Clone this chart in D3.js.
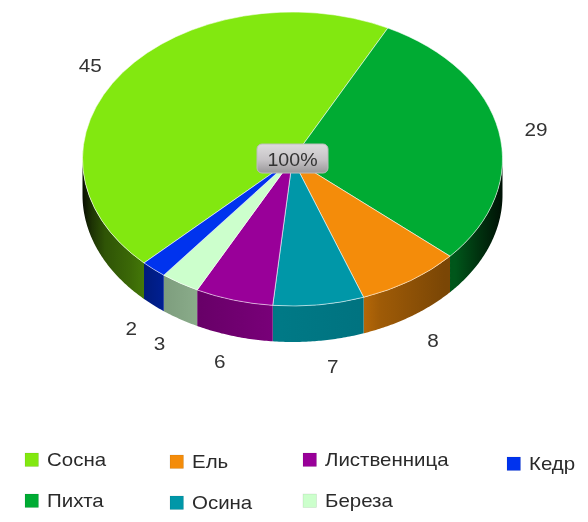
<!DOCTYPE html>
<html><head><meta charset="utf-8">
<script src="https://cdn.jsdelivr.net/npm/d3@7"></script>
<style>html,body{margin:0;padding:0;background:#fff}svg{display:block;filter:blur(.4px)}text{font-family:"Liberation Sans",Arial,sans-serif}</style>
</head><body><svg id="c" width="588" height="522"></svg>
<script>
const categories=["Сосна","Пихта","Ель","Осина","Лиственница","Береза","Кедр"];
const values=[45,29,8,7,6,3,2];
const colors=["#82E810","#00AB33","#F48C0A","#0097A8","#990099","#CCFFCC","#0033EE"];
const totalLabel="100%";
const legendOrder=["Сосна","Пихта","Ель","Осина","Лиственница","Береза","Кедр"];

const W=588,H=522,cx=292.5,cy=159,rx=210,ry=147,depth=36;
const svg=d3.select("#c"),defs=svg.append("defs");
const color=d3.scaleOrdinal(categories,colors);
const rot=225*Math.PI/180;
const pie=d3.pie().sort(null).startAngle(rot).endAngle(rot+2*Math.PI);
const arcs=pie(values).map((d,i)=>({...d,name:categories[i]}));
const px=a=>cx+rx*Math.sin(a), py=a=>cy-ry*Math.cos(a);

// side walls (front half only)
const lo=Math.PI/2,hi=3*Math.PI/2,TAU=2*Math.PI;
const wallX=d3.scaleLinear().domain([cx-rx,cx+rx]).range([0,100]);
const shade=[[82,.06],[92,.22],[105,.36],[130,.45],[165,.62],[200,.68],[280,.8],[360,.76],[380,.65],[445,.5],[455,.5],[478,.3],[503,.1]];
const line=d3.line();
const sides=[];
arcs.forEach((d,i)=>{
  [[d.startAngle,d.endAngle],[d.startAngle-TAU,d.endAngle-TAU]].forEach(([a,b])=>{
    const s=Math.max(a,lo),e=Math.min(b,hi);
    if(e<=s)return;
    const angs=d3.range(s,e,0.01).concat([e]);
    const top=angs.map(t=>[px(t),py(t)]);
    const bot=angs.slice().reverse().map(t=>[px(t),py(t)+depth]);
    sides.push({name:d.name,path:line(top.concat(bot))+"Z"});
  });
});
categories.forEach((n,i)=>{
  const g=defs.append("linearGradient").attr("id","wall"+i).attr("gradientUnits","userSpaceOnUse")
    .attr("x1",cx-rx).attr("x2",cx+rx).attr("y1",0).attr("y2",0);
  shade.forEach(([x,f])=>{
    const c=d3.rgb(colors[i]);
    g.append("stop").attr("offset",wallX(x)+"%")
     .attr("stop-color",d3.rgb(c.r*f,c.g*f,c.b*f).formatHex());
  });
});
svg.append("g").selectAll("path").data(sides).join("path")
  .attr("d",d=>d.path)
  .attr("fill",d=>`url(#wall${categories.indexOf(d.name)})`);

// top face
const arc=d3.arc().innerRadius(0).outerRadius(rx);
svg.append("g").attr("transform",`translate(${cx},${cy}) scale(1,${ry/rx})`)
  .selectAll("path").data(arcs).join("path")
  .attr("d",arc).attr("fill",d=>color(d.name))
  .attr("stroke","#fff").attr("stroke-opacity",.55).attr("stroke-width",1)
  .attr("vector-effect","non-scaling-stroke");

// value labels
const lrx=250,lry=160,front=49;
const labelNudge={"Осина":9,"Кедр":4,"Пихта":-2,"Лиственница":-3,"Береза":1};
svg.append("g").selectAll("text").data(arcs).join("text")
  .attr("transform",d=>{const m=(d.startAngle+d.endAngle)/2,ma=m%TAU;
     const x=cx+lrx*Math.sin(m)+(labelNudge[d.name]||0);
     const y=cy-lry*Math.cos(m)+(ma>lo&&ma<hi?front:0);
     return `translate(${x},${y}) scale(1.12,1)`;})
  .attr("text-anchor","middle").attr("dominant-baseline","central")
  .attr("font-size",18.5).attr("fill","#333").text(d=>d.value);

// total badge
const gb=defs.append("linearGradient").attr("id","badge").attr("x1",0).attr("x2",0).attr("y1",0).attr("y2",1);
[[0,"#dddcdd"],[.55,"#c6c3c6"],[1,"#9a989a"]].forEach(([o,c])=>gb.append("stop").attr("offset",o).attr("stop-color",c));
svg.append("rect").attr("x",cx-35.5).attr("y",cy-15).attr("width",71).attr("height",29).attr("rx",5)
  .attr("fill","url(#badge)").attr("stroke","#bdbdbd").attr("stroke-width",1);
svg.append("text").attr("transform",`translate(${cx},${cy+1}) scale(1.12,1)`)
  .attr("text-anchor","middle").attr("dominant-baseline","central")
  .attr("font-size",17.5).attr("fill","#333").text(totalLabel);

// legend
const legendPos={"Сосна":[25,453],"Пихта":[25,494],"Ель":[170,455],"Осина":[170,496],"Лиственница":[303,453],"Береза":[303,494],"Кедр":[507,457]};
const lg=svg.append("g").selectAll("g").data(legendOrder).join("g")
  .attr("transform",d=>`translate(${legendPos[d][0]},${legendPos[d][1]})`);
lg.append("rect").attr("width",13.5).attr("height",13.5).attr("fill",d=>color(d))
  .attr("stroke","#000").attr("stroke-opacity",.12).attr("stroke-width",.6);
lg.append("text").attr("transform","translate(22,7.5) scale(1.17,1)").attr("dominant-baseline","central")
  .attr("font-size",17.5).attr("fill","#2a2a2a").text(d=>d);
</script></body></html>
